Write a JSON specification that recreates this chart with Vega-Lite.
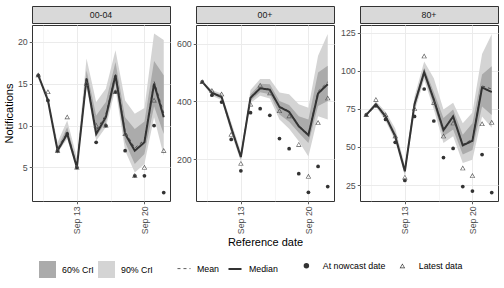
{
  "$schema": "https://vega.github.io/schema/vega-lite/v6.json",
  "padding": {"left": 2, "top": 5, "right": 5, "bottom": 5},
  "background": "white",
  "datasets": {
    "rows": [
      {"group": "00-04", "date": "2021-09-09", "lower90": 16, "lower60": 16, "upper60": 16, "upper90": 16.2, "median": 16, "mean": 16, "nowcast": 16, "latest": 16},
      {"group": "00-04", "date": "2021-09-10", "lower90": 12.8, "lower60": 13, "upper60": 13.2, "upper90": 13.6, "median": 13, "mean": 13.1, "nowcast": 13, "latest": 14},
      {"group": "00-04", "date": "2021-09-11", "lower90": 6.8, "lower60": 7, "upper60": 7.4, "upper90": 8, "median": 7, "mean": 7.2, "nowcast": 7, "latest": 7},
      {"group": "00-04", "date": "2021-09-12", "lower90": 8.4, "lower60": 8.8, "upper60": 9.8, "upper90": 10.6, "median": 9, "mean": 9.2, "nowcast": 9, "latest": 11},
      {"group": "00-04", "date": "2021-09-13", "lower90": 4.8, "lower60": 5, "upper60": 5.5, "upper90": 6.2, "median": 5, "mean": 5.2, "nowcast": 5, "latest": 5},
      {"group": "00-04", "date": "2021-09-14", "lower90": 14.6, "lower60": 15, "upper60": 16.6, "upper90": 18, "median": 15.6, "mean": 15.8, "nowcast": 15, "latest": 15},
      {"group": "00-04", "date": "2021-09-15", "lower90": 8.2, "lower60": 8.7, "upper60": 11.2, "upper90": 12.8, "median": 9, "mean": 9.4, "nowcast": 8, "latest": 10},
      {"group": "00-04", "date": "2021-09-16", "lower90": 9.8, "lower60": 10.4, "upper60": 12.8, "upper90": 14.4, "median": 11, "mean": 11.3, "nowcast": 10, "latest": 10},
      {"group": "00-04", "date": "2021-09-17", "lower90": 14.4, "lower60": 15, "upper60": 17.6, "upper90": 19, "median": 16, "mean": 16.2, "nowcast": 14, "latest": 14},
      {"group": "00-04", "date": "2021-09-18", "lower90": 7, "lower60": 8, "upper60": 11, "upper90": 13, "median": 9, "mean": 9.3, "nowcast": 7, "latest": 9},
      {"group": "00-04", "date": "2021-09-19", "lower90": 4.4, "lower60": 5.4, "upper60": 9.6, "upper90": 11.4, "median": 7, "mean": 7.3, "nowcast": 4, "latest": 4},
      {"group": "00-04", "date": "2021-09-20", "lower90": 5.4, "lower60": 6.6, "upper60": 10.5, "upper90": 12.1, "median": 8, "mean": 8.3, "nowcast": 4, "latest": 5},
      {"group": "00-04", "date": "2021-09-21", "lower90": 11, "lower60": 12.3, "upper60": 17.7, "upper90": 21, "median": 15, "mean": 15.3, "nowcast": 10, "latest": 13},
      {"group": "00-04", "date": "2021-09-22", "lower90": 6.4, "lower60": 9, "upper60": 16, "upper90": 20.2, "median": 11, "mean": 11.5, "nowcast": 2, "latest": 7},
      {"group": "00+", "date": "2021-09-09", "lower90": 465, "lower60": 467, "upper60": 469, "upper90": 471, "median": 468, "mean": 468, "nowcast": 468, "latest": 468},
      {"group": "00+", "date": "2021-09-10", "lower90": 420, "lower60": 425, "upper60": 435, "upper90": 440, "median": 430, "mean": 431, "nowcast": 422, "latest": 437},
      {"group": "00+", "date": "2021-09-11", "lower90": 405, "lower60": 410, "upper60": 422, "upper90": 428, "median": 416, "mean": 417, "nowcast": 398, "latest": 425},
      {"group": "00+", "date": "2021-09-12", "lower90": 290, "lower60": 298, "upper60": 318, "upper90": 328, "median": 308, "mean": 309, "nowcast": 268, "latest": 285},
      {"group": "00+", "date": "2021-09-13", "lower90": 192, "lower60": 200, "upper60": 215, "upper90": 225, "median": 207, "mean": 208, "nowcast": 159, "latest": 184},
      {"group": "00+", "date": "2021-09-14", "lower90": 395, "lower60": 403, "upper60": 425, "upper90": 440, "median": 413, "mean": 414, "nowcast": 361, "latest": 390},
      {"group": "00+", "date": "2021-09-15", "lower90": 420, "lower60": 432, "upper60": 462, "upper90": 478, "median": 446, "mean": 447, "nowcast": 375, "latest": 456},
      {"group": "00+", "date": "2021-09-16", "lower90": 410, "lower60": 425, "upper60": 460, "upper90": 478, "median": 441, "mean": 442, "nowcast": 352, "latest": 429},
      {"group": "00+", "date": "2021-09-17", "lower90": 337, "lower60": 355, "upper60": 402, "upper90": 431, "median": 381, "mean": 382, "nowcast": 271, "latest": 367},
      {"group": "00+", "date": "2021-09-18", "lower90": 305, "lower60": 330, "upper60": 388, "upper90": 425, "median": 364, "mean": 366, "nowcast": 236, "latest": 349},
      {"group": "00+", "date": "2021-09-19", "lower90": 262, "lower60": 291, "upper60": 349, "upper90": 390, "median": 314, "mean": 316, "nowcast": 149, "latest": 250},
      {"group": "00+", "date": "2021-09-20", "lower90": 209, "lower60": 256, "upper60": 337, "upper90": 378, "median": 283, "mean": 286, "nowcast": 84, "latest": 139},
      {"group": "00+", "date": "2021-09-21", "lower90": 349, "lower60": 384, "upper60": 501, "upper90": 559, "median": 428, "mean": 435, "nowcast": 174, "latest": 326},
      {"group": "00+", "date": "2021-09-22", "lower90": 337, "lower60": 402, "upper60": 524, "upper90": 635, "median": 460, "mean": 468, "nowcast": 104, "latest": 411},
      {"group": "80+", "date": "2021-09-09", "lower90": 70.5, "lower60": 71, "upper60": 71, "upper90": 71.5, "median": 71, "mean": 71, "nowcast": 71, "latest": 71},
      {"group": "80+", "date": "2021-09-10", "lower90": 76.5, "lower60": 77, "upper60": 78.5, "upper90": 80, "median": 78, "mean": 78, "nowcast": 77, "latest": 81},
      {"group": "80+", "date": "2021-09-11", "lower90": 67, "lower60": 68.5, "upper60": 71.5, "upper90": 73, "median": 70, "mean": 70.2, "nowcast": 68, "latest": 71},
      {"group": "80+", "date": "2021-09-12", "lower90": 54, "lower60": 55.5, "upper60": 59.5, "upper90": 62, "median": 57, "mean": 57.3, "nowcast": 53, "latest": 57},
      {"group": "80+", "date": "2021-09-13", "lower90": 31, "lower60": 32.5, "upper60": 36, "upper90": 38, "median": 34, "mean": 34.2, "nowcast": 28, "latest": 30},
      {"group": "80+", "date": "2021-09-14", "lower90": 73, "lower60": 75.5, "upper60": 80.5, "upper90": 83, "median": 78, "mean": 78.2, "nowcast": 70, "latest": 75},
      {"group": "80+", "date": "2021-09-15", "lower90": 94, "lower60": 96.5, "upper60": 102, "upper90": 106, "median": 99, "mean": 99.3, "nowcast": 88, "latest": 109.5},
      {"group": "80+", "date": "2021-09-16", "lower90": 74.5, "lower60": 77.5, "upper60": 86, "upper90": 95, "median": 81, "mean": 81.5, "nowcast": 67, "latest": 79},
      {"group": "80+", "date": "2021-09-17", "lower90": 52.5, "lower60": 57, "upper60": 69, "upper90": 74.5, "median": 61, "mean": 61.5, "nowcast": 43, "latest": 57},
      {"group": "80+", "date": "2021-09-18", "lower90": 57, "lower60": 61.5, "upper60": 74.5, "upper90": 79, "median": 70, "mean": 69.5, "nowcast": 49, "latest": 65.5},
      {"group": "80+", "date": "2021-09-19", "lower90": 39.5, "lower60": 45, "upper60": 58, "upper90": 65.5, "median": 51, "mean": 51.6, "nowcast": 24, "latest": 36},
      {"group": "80+", "date": "2021-09-20", "lower90": 41.5, "lower60": 48, "upper60": 65.5, "upper90": 72.5, "median": 54, "mean": 55, "nowcast": 21, "latest": 31},
      {"group": "80+", "date": "2021-09-21", "lower90": 70, "lower60": 76.5, "upper60": 97.5, "upper90": 111, "median": 89, "mean": 90, "nowcast": 45, "latest": 65},
      {"group": "80+", "date": "2021-09-22", "lower90": 62.5, "lower60": 71, "upper60": 103, "upper90": 124, "median": 86, "mean": 88, "nowcast": 20, "latest": 66}
    ]
  },
  "hconcat": [
    {
      "spacing": 0,
      "vconcat": [
        {
          "width": 138, "height": 17,
          "data": {"values": [{"group": "00-04"}]},
          "view": {"fill": "#d9d9d9", "stroke": "#333333"},
          "mark": {"type": "text", "fontSize": 8.8, "color": "#1a1a1a"},
          "encoding": {"text": {"field": "group"}}
        },
        {
          "width": 138, "height": 176,
          "data": {"name": "rows"},
          "transform": [{"filter": "datum.group === '00-04'"}],
          "encoding": {
            "x": {
              "field": "date", "type": "temporal",
              "scale": {"type": "utc", "nice": false, "domain": [{"year": 2021, "month": 9, "date": 8, "hours": 8, "minutes": 24, "utc": true}, {"year": 2021, "month": 9, "date": 22, "hours": 15, "minutes": 36, "utc": true}]},
              "axis": {
                "title": null,
                "values": [{"year": 2021, "month": 9, "date": 9, "hours": 12, "utc": true}, {"year": 2021, "month": 9, "date": 13, "utc": true}, {"year": 2021, "month": 9, "date": 16, "hours": 12, "utc": true}, {"year": 2021, "month": 9, "date": 20, "utc": true}],
                "labelExpr": "utchours(datum.value) == 12 ? '' : utcFormat(datum.value, '%b %d')",
                "labelAngle": 270, "labelAlign": "right", "labelBaseline": "middle",
                "tickOpacity": {"condition": {"test": "utchours(datum.value) == 12", "value": 0}, "value": 1},
                "gridWidth": {"condition": {"test": "utchours(datum.value) == 12", "value": 0.5}, "value": 1}
              }
            }
          },
          "layer": [
            {
              "mark": {"type": "area", "opacity": 1},
              "encoding": {
                "y": {
                  "field": "lower90", "type": "quantitative",
                  "scale": {"domain": [1, 22], "nice": false, "zero": false},
                  "axis": {"title": "Notifications", "values": [5, 10, 15, 20]}
                },
                "y2": {"field": "upper90"},
                "fill": {"datum": "90% CrI", "type": "nominal", "scale": {"domain": ["60% CrI", "90% CrI"], "range": ["#ababab", "#d4d4d4"]}, "legend": {"title": null, "orient": "bottom", "direction": "horizontal", "symbolType": "square", "symbolSize": 289, "symbolStrokeWidth": 0, "symbolOpacity": 1, "labelOffset": 6, "columnPadding": 4}}
              }
            },
            {
              "mark": {"type": "area", "opacity": 1},
              "encoding": {
                "y": {"field": "lower60", "type": "quantitative"},
                "y2": {"field": "upper60"},
                "fill": {"datum": "60% CrI", "type": "nominal"}
              }
            },
            {
              "mark": {"type": "line", "color": "#333333"},
              "encoding": {
                "y": {"field": "mean", "type": "quantitative"},
                "strokeDash": {"datum": "Mean", "type": "ordinal", "scale": {"domain": ["Mean", "Median"], "range": [[3, 3], [1, 0]]}, "legend": {"title": null, "orient": "bottom", "direction": "horizontal", "symbolSize": 170, "labelOffset": 6, "columnPadding": 4}},
                "strokeWidth": {"datum": "Mean", "type": "ordinal", "scale": {"domain": ["Mean", "Median"], "range": [0.8, 2]}, "legend": {"title": null, "orient": "bottom", "direction": "horizontal", "symbolSize": 170, "labelOffset": 6, "columnPadding": 4}}
              }
            },
            {
              "mark": {"type": "line", "color": "#333333"},
              "encoding": {
                "y": {"field": "median", "type": "quantitative"},
                "strokeDash": {"datum": "Median", "type": "ordinal"},
                "strokeWidth": {"datum": "Median", "type": "ordinal"}
              }
            },
            {
              "mark": {"type": "point", "filled": true, "opacity": 1, "color": "#333333", "size": 14},
              "encoding": {
                "y": {"field": "nowcast", "type": "quantitative"},
                "shape": {"datum": "At nowcast date", "type": "nominal", "scale": {"domain": ["At nowcast date", "Latest data"], "range": ["circle", "M0,-1L1,0.732L-1,0.732ZM0,-0.56L-0.619,0.512L0.619,0.512Z"]}, "legend": {"title": null, "orient": "bottom", "direction": "horizontal", "symbolSize": 30, "labelOffset": 12, "columnPadding": 10}}
              }
            },
            {
              "mark": {"type": "point", "filled": true, "opacity": 1, "color": "#555555", "size": 30},
              "encoding": {
                "y": {"field": "latest", "type": "quantitative"},
                "shape": {"datum": "Latest data", "type": "nominal"}
              }
            }
          ]
        }
      ]
    },
    {
      "spacing": 0,
      "vconcat": [
        {
          "width": 138, "height": 17,
          "data": {"values": [{"group": "00+"}]},
          "view": {"fill": "#d9d9d9", "stroke": "#333333"},
          "mark": {"type": "text", "fontSize": 8.8, "color": "#1a1a1a"},
          "encoding": {"text": {"field": "group"}}
        },
        {
          "width": 138, "height": 176,
          "data": {"name": "rows"},
          "transform": [{"filter": "datum.group === '00+'"}],
          "encoding": {
            "x": {
              "field": "date", "type": "temporal",
              "scale": {"type": "utc", "nice": false, "domain": [{"year": 2021, "month": 9, "date": 8, "hours": 8, "minutes": 24, "utc": true}, {"year": 2021, "month": 9, "date": 22, "hours": 15, "minutes": 36, "utc": true}]},
              "axis": {
                "title": "Reference date",
                "values": [{"year": 2021, "month": 9, "date": 9, "hours": 12, "utc": true}, {"year": 2021, "month": 9, "date": 13, "utc": true}, {"year": 2021, "month": 9, "date": 16, "hours": 12, "utc": true}, {"year": 2021, "month": 9, "date": 20, "utc": true}],
                "labelExpr": "utchours(datum.value) == 12 ? '' : utcFormat(datum.value, '%b %d')",
                "labelAngle": 270, "labelAlign": "right", "labelBaseline": "middle",
                "tickOpacity": {"condition": {"test": "utchours(datum.value) == 12", "value": 0}, "value": 1},
                "gridWidth": {"condition": {"test": "utchours(datum.value) == 12", "value": 0.5}, "value": 1}
              }
            }
          },
          "layer": [
            {
              "mark": {"type": "area", "opacity": 1},
              "encoding": {
                "y": {
                  "field": "lower90", "type": "quantitative",
                  "scale": {"domain": [54, 666], "nice": false, "zero": false},
                  "axis": {"title": null, "values": [200, 400, 600]}
                },
                "y2": {"field": "upper90"},
                "fill": {"datum": "90% CrI", "type": "nominal", "scale": {"domain": ["60% CrI", "90% CrI"], "range": ["#ababab", "#d4d4d4"]}, "legend": {"title": null, "orient": "bottom", "direction": "horizontal", "symbolType": "square", "symbolSize": 289, "symbolStrokeWidth": 0, "symbolOpacity": 1, "labelOffset": 6, "columnPadding": 4}}
              }
            },
            {
              "mark": {"type": "area", "opacity": 1},
              "encoding": {
                "y": {"field": "lower60", "type": "quantitative"},
                "y2": {"field": "upper60"},
                "fill": {"datum": "60% CrI", "type": "nominal"}
              }
            },
            {
              "mark": {"type": "line", "color": "#333333"},
              "encoding": {
                "y": {"field": "mean", "type": "quantitative"},
                "strokeDash": {"datum": "Mean", "type": "ordinal", "scale": {"domain": ["Mean", "Median"], "range": [[3, 3], [1, 0]]}, "legend": {"title": null, "orient": "bottom", "direction": "horizontal", "symbolSize": 170, "labelOffset": 6, "columnPadding": 4}},
                "strokeWidth": {"datum": "Mean", "type": "ordinal", "scale": {"domain": ["Mean", "Median"], "range": [0.8, 2]}, "legend": {"title": null, "orient": "bottom", "direction": "horizontal", "symbolSize": 170, "labelOffset": 6, "columnPadding": 4}}
              }
            },
            {
              "mark": {"type": "line", "color": "#333333"},
              "encoding": {
                "y": {"field": "median", "type": "quantitative"},
                "strokeDash": {"datum": "Median", "type": "ordinal"},
                "strokeWidth": {"datum": "Median", "type": "ordinal"}
              }
            },
            {
              "mark": {"type": "point", "filled": true, "opacity": 1, "color": "#333333", "size": 14},
              "encoding": {
                "y": {"field": "nowcast", "type": "quantitative"},
                "shape": {"datum": "At nowcast date", "type": "nominal", "scale": {"domain": ["At nowcast date", "Latest data"], "range": ["circle", "M0,-1L1,0.732L-1,0.732ZM0,-0.56L-0.619,0.512L0.619,0.512Z"]}, "legend": {"title": null, "orient": "bottom", "direction": "horizontal", "symbolSize": 30, "labelOffset": 12, "columnPadding": 10}}
              }
            },
            {
              "mark": {"type": "point", "filled": true, "opacity": 1, "color": "#555555", "size": 30},
              "encoding": {
                "y": {"field": "latest", "type": "quantitative"},
                "shape": {"datum": "Latest data", "type": "nominal"}
              }
            }
          ]
        }
      ]
    },
    {
      "spacing": 0,
      "vconcat": [
        {
          "width": 138, "height": 17,
          "data": {"values": [{"group": "80+"}]},
          "view": {"fill": "#d9d9d9", "stroke": "#333333"},
          "mark": {"type": "text", "fontSize": 8.8, "color": "#1a1a1a"},
          "encoding": {"text": {"field": "group"}}
        },
        {
          "width": 138, "height": 176,
          "data": {"name": "rows"},
          "transform": [{"filter": "datum.group === '80+'"}],
          "encoding": {
            "x": {
              "field": "date", "type": "temporal",
              "scale": {"type": "utc", "nice": false, "domain": [{"year": 2021, "month": 9, "date": 8, "hours": 8, "minutes": 24, "utc": true}, {"year": 2021, "month": 9, "date": 22, "hours": 15, "minutes": 36, "utc": true}]},
              "axis": {
                "title": null,
                "values": [{"year": 2021, "month": 9, "date": 9, "hours": 12, "utc": true}, {"year": 2021, "month": 9, "date": 13, "utc": true}, {"year": 2021, "month": 9, "date": 16, "hours": 12, "utc": true}, {"year": 2021, "month": 9, "date": 20, "utc": true}],
                "labelExpr": "utchours(datum.value) == 12 ? '' : utcFormat(datum.value, '%b %d')",
                "labelAngle": 270, "labelAlign": "right", "labelBaseline": "middle",
                "tickOpacity": {"condition": {"test": "utchours(datum.value) == 12", "value": 0}, "value": 1},
                "gridWidth": {"condition": {"test": "utchours(datum.value) == 12", "value": 0.5}, "value": 1}
              }
            }
          },
          "layer": [
            {
              "mark": {"type": "area", "opacity": 1},
              "encoding": {
                "y": {
                  "field": "lower90", "type": "quantitative",
                  "scale": {"domain": [14.5, 130], "nice": false, "zero": false},
                  "axis": {
                    "title": null,
                    "values": [25, 37.5, 50, 62.5, 75, 87.5, 100, 112.5, 125],
                    "labelExpr": "datum.value % 25 == 0 ? datum.label : ''",
                    "tickOpacity": {"condition": {"test": "datum.value % 25 != 0", "value": 0}, "value": 1},
                    "gridWidth": {"condition": {"test": "datum.value % 25 != 0", "value": 0.5}, "value": 1}
                  }
                },
                "y2": {"field": "upper90"},
                "fill": {"datum": "90% CrI", "type": "nominal", "scale": {"domain": ["60% CrI", "90% CrI"], "range": ["#ababab", "#d4d4d4"]}, "legend": {"title": null, "orient": "bottom", "direction": "horizontal", "symbolType": "square", "symbolSize": 289, "symbolStrokeWidth": 0, "symbolOpacity": 1, "labelOffset": 6, "columnPadding": 4}}
              }
            },
            {
              "mark": {"type": "area", "opacity": 1},
              "encoding": {
                "y": {"field": "lower60", "type": "quantitative"},
                "y2": {"field": "upper60"},
                "fill": {"datum": "60% CrI", "type": "nominal"}
              }
            },
            {
              "mark": {"type": "line", "color": "#333333"},
              "encoding": {
                "y": {"field": "mean", "type": "quantitative"},
                "strokeDash": {"datum": "Mean", "type": "ordinal", "scale": {"domain": ["Mean", "Median"], "range": [[3, 3], [1, 0]]}, "legend": {"title": null, "orient": "bottom", "direction": "horizontal", "symbolSize": 170, "labelOffset": 6, "columnPadding": 4}},
                "strokeWidth": {"datum": "Mean", "type": "ordinal", "scale": {"domain": ["Mean", "Median"], "range": [0.8, 2]}, "legend": {"title": null, "orient": "bottom", "direction": "horizontal", "symbolSize": 170, "labelOffset": 6, "columnPadding": 4}}
              }
            },
            {
              "mark": {"type": "line", "color": "#333333"},
              "encoding": {
                "y": {"field": "median", "type": "quantitative"},
                "strokeDash": {"datum": "Median", "type": "ordinal"},
                "strokeWidth": {"datum": "Median", "type": "ordinal"}
              }
            },
            {
              "mark": {"type": "point", "filled": true, "opacity": 1, "color": "#333333", "size": 14},
              "encoding": {
                "y": {"field": "nowcast", "type": "quantitative"},
                "shape": {"datum": "At nowcast date", "type": "nominal", "scale": {"domain": ["At nowcast date", "Latest data"], "range": ["circle", "M0,-1L1,0.732L-1,0.732ZM0,-0.56L-0.619,0.512L0.619,0.512Z"]}, "legend": {"title": null, "orient": "bottom", "direction": "horizontal", "symbolSize": 30, "labelOffset": 12, "columnPadding": 10}}
              }
            },
            {
              "mark": {"type": "point", "filled": true, "opacity": 1, "color": "#555555", "size": 30},
              "encoding": {
                "y": {"field": "latest", "type": "quantitative"},
                "shape": {"datum": "Latest data", "type": "nominal"}
              }
            }
          ]
        }
      ]
    }
  ],
  "spacing": 5,
  "config": {
    "font": "Liberation Sans",
    "view": {"stroke": "#333333", "strokeWidth": 1},
    "axis": {
      "labelFontSize": 8.8, "labelColor": "#4d4d4d", "labelPadding": 2, "labelOverlap": false,
      "titleFontSize": 11, "titleFontWeight": "normal", "titleColor": "#000000", "titlePadding": 3,
      "tickColor": "#333333", "tickSize": 2.75, "tickWidth": 0.8,
      "domain": false, "gridColor": "#ebebeb"
    },
    "legend": {
      "labelFontSize": 8.8, "labelColor": "#000000", "offset": 12,
      "layout": {"bottom": {"anchor": "middle", "bounds": "flush", "margin": 24}}
    }
  }
}
